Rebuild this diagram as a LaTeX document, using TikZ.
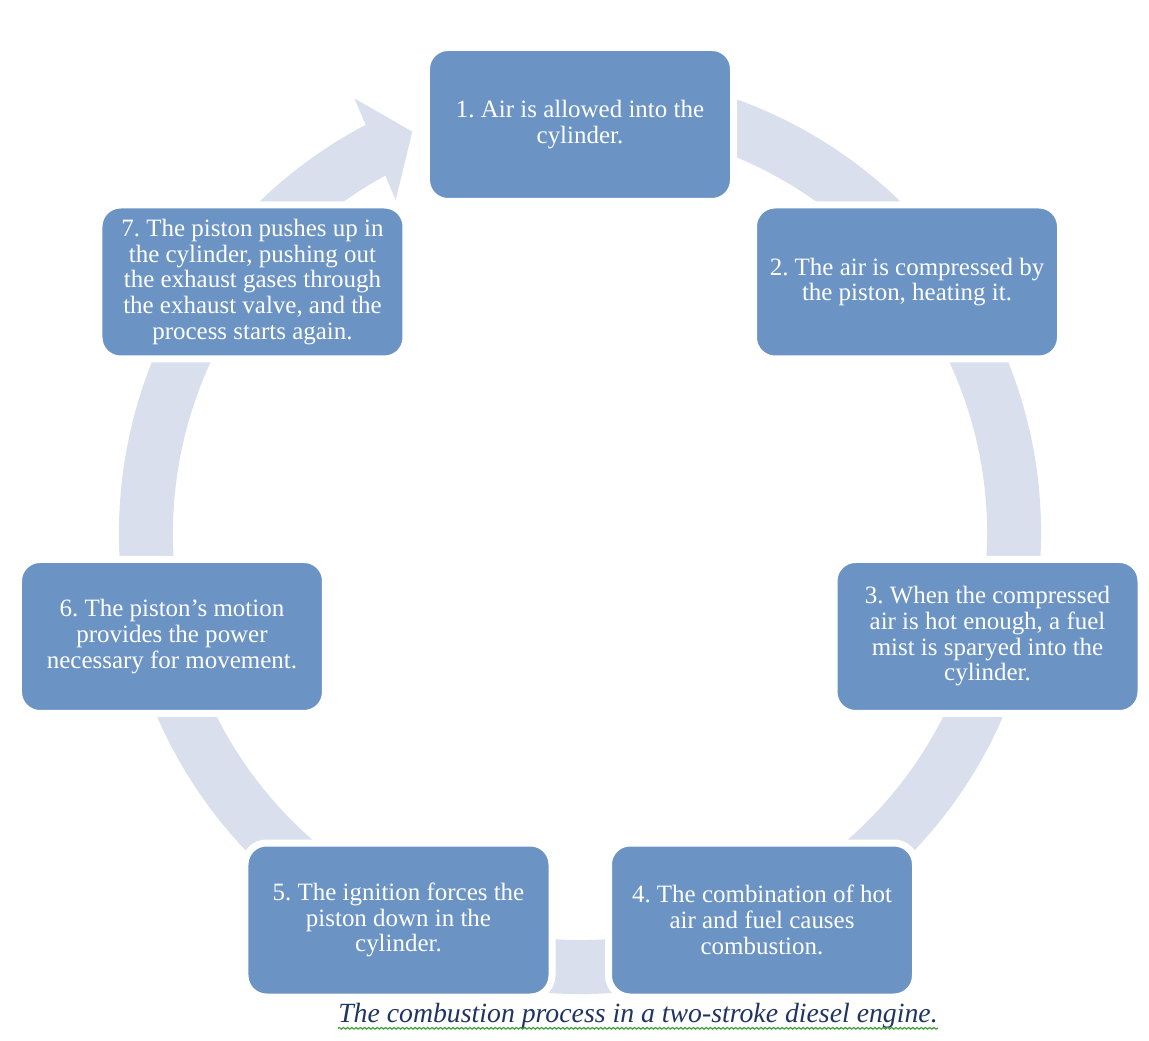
\documentclass[tikz,border=0pt]{standalone}
\usepackage{fontspec}
\setmainfont{Liberation Serif}
\usetikzlibrary{positioning, decorations.pathmorphing}

\definecolor{stageblue}{RGB}{107,148,197}
\definecolor{ringgray}{RGB}{217,223,236}
\definecolor{capnavy}{RGB}{32,52,98}
\definecolor{spellgreen}{RGB}{70,160,60}

\begin{document}
\begin{tikzpicture}[
    % --- STYLES ---
    stage/.style={
            draw=white,
            line width=0.14cm,
            fill=stageblue,
            rounded corners=0.43cm,
            align=center,
            minimum width=6.14cm,
            minimum height=3.08cm,
            text=white,
            font=\fontsize{14.2}{14.6}\selectfont\frenchspacing
        },
    ring/.style={
            fill=ringgray
        },
    captext/.style={
            font=\fontsize{15.8}{18}\selectfont\itshape,
            text=capnavy,
            inner sep=0pt
        },
    squiggle/.style={
            draw=spellgreen,
            line width=0.7pt,
            decorate,
            decoration={snake, amplitude=0.45pt, segment length=2.4pt}
        }
    ]

    \useasboundingbox (-11.6,-10.16) rectangle (11.38,10.66);

    % --- RING WITH ARROW HEAD (behind the stages) ---
    \fill[ring] (80:9.22) arc[start angle=80, end angle=-242.31, radius=9.22]
        -- (-4.514,8.694) -- (-3.354,8.026) -- (-3.686,6.66)
        -- (-241.42:8.14) arc[start angle=-241.42, end angle=80, radius=8.14] -- cycle;

    % --- STAGES ---
    \node[stage] (air) at (0,8.17) {1. Air is allowed into the\\cylinder.};
    \node[stage] (compress) at (6.54,5.02) {2. The air is compressed by\\the piston, heating it.};
    \node[stage] (spray) at (8.15,-2.07) {3. When the compressed\\air is hot enough, a fuel\\mist is sparyed into the\\cylinder.};
    \node[stage] (combust) at (3.64,-7.74) {4. The combination of hot\\air and fuel causes\\combustion.};
    \node[stage] (ignite) at (-3.63,-7.74) {5. The ignition forces the\\piston down in the\\cylinder.};
    \node[stage] (power) at (-8.16,-2.07) {6. The piston's motion\\provides the power\\necessary for movement.};
    \node[stage] (exhaust) at (-6.55,5.02) {7. The piston pushes up in\\the cylinder, pushing out\\the exhaust gases through\\the exhaust valve, and the\\process starts again.};

    % --- CAPTION ---
    \node[captext] (caption) at (1.16,-9.66) {The combustion process in a two-stroke diesel engine.};
    \draw[squiggle] ([yshift=-3.2pt]caption.base west) -- ([yshift=-3.2pt]caption.base east);

\end{tikzpicture}
\end{document}
